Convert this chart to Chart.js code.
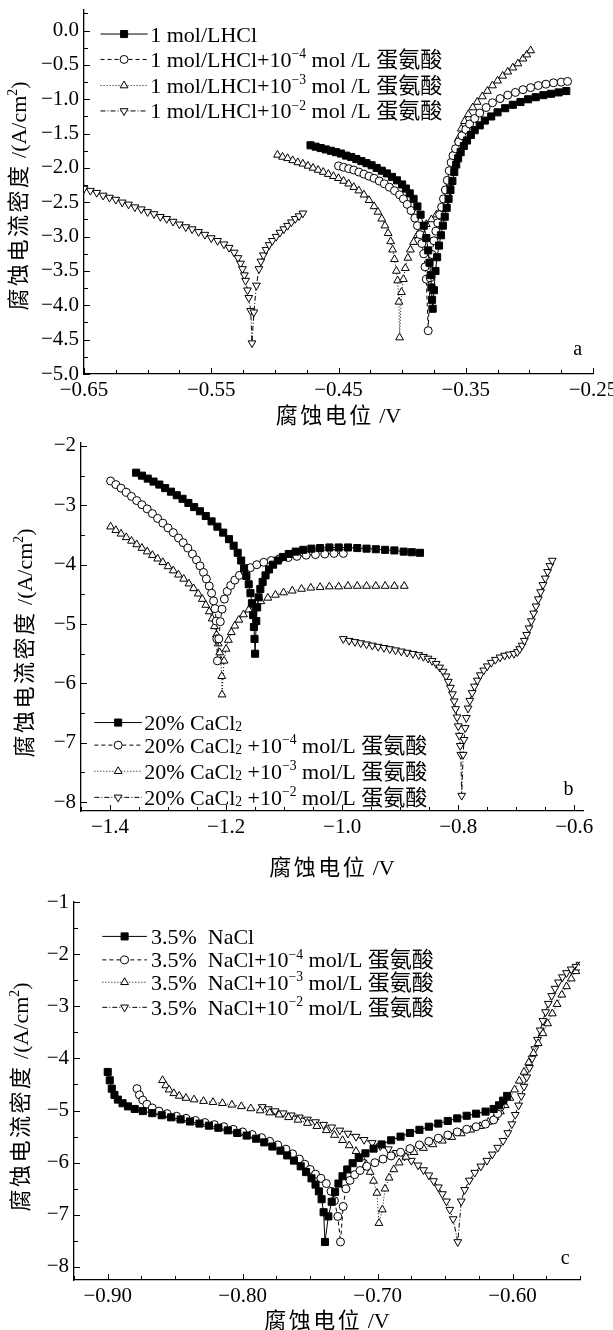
<!DOCTYPE html>
<html>
<head>
<meta charset="utf-8">
<script src="https://cdn.jsdelivr.net/npm/chart.js@4.4.1/dist/chart.umd.min.js"></script>
<style>
  html, body { margin: 0; padding: 0; background: #fff; }
  #wrap { position: relative; width: 613px; height: 1330px; overflow: hidden; }
  canvas { position: absolute; left: 0; }
</style>
</head>
<body>
<div id="wrap">
  <canvas id="pa"></canvas>
  <canvas id="pb"></canvas>
  <canvas id="pc"></canvas>
</div>
<script>
// ---- panel a: 1 mol/L HCl ----
const hclXTicks = [-0.65, -0.55, -0.45, -0.35, -0.25];
const hclYTicks = [0, -0.5, -1, -1.5, -2, -2.5, -3, -3.5, -4, -4.5, -5];
const hclLabels = ['1 mol/LHCl', '1 mol/LHCl+10⁻⁴ mol /L 蛋氨酸', '1 mol/LHCl+10⁻³ mol /L 蛋氨酸', '1 mol/LHCl+10⁻² mol /L 蛋氨酸'];

const hclBlank = [[-0.472,-1.67],[-0.468,-1.69],[-0.464,-1.71],[-0.460,-1.73],[-0.456,-1.75],[-0.452,-1.77],[-0.448,-1.79],[-0.444,-1.82],[-0.440,-1.84],[-0.436,-1.87],[-0.432,-1.90],[-0.428,-1.93],[-0.424,-1.96],[-0.420,-2.00],[-0.416,-2.04],[-0.412,-2.08],[-0.408,-2.13],[-0.404,-2.18],[-0.400,-2.24],[-0.397,-2.30],[-0.394,-2.37],[-0.391,-2.45],[-0.388,-2.56],[-0.3855,-2.68],[-0.383,-2.84],[-0.381,-3.02],[-0.3795,-3.20],[-0.3785,-3.38],[-0.3775,-3.56],[-0.377,-3.74],[-0.3765,-3.92],[-0.376,-4.05],
  [-0.375,-3.78],[-0.3738,-3.50],[-0.3725,-3.30],[-0.371,-3.13],[-0.3695,-2.98],[-0.368,-2.84],[-0.3665,-2.71],[-0.365,-2.58],[-0.3635,-2.45],[-0.362,-2.32],[-0.3605,-2.19],[-0.359,-2.06],[-0.3575,-1.95],[-0.356,-1.86],[-0.354,-1.77],[-0.3515,-1.68],[-0.349,-1.60],[-0.346,-1.52],[-0.343,-1.45],[-0.339,-1.38],[-0.335,-1.31],[-0.330,-1.25],[-0.325,-1.19],[-0.319,-1.13],[-0.313,-1.08],[-0.307,-1.04],[-0.301,-1.00],[-0.295,-0.97],[-0.289,-0.94],[-0.283,-0.92],[-0.277,-0.90],[-0.271,-0.88]];
const hcl4 = [[-0.450,-1.97],[-0.446,-1.99],[-0.442,-2.01],[-0.438,-2.03],[-0.434,-2.06],[-0.430,-2.09],[-0.426,-2.12],[-0.422,-2.15],[-0.418,-2.19],[-0.414,-2.23],[-0.410,-2.28],[-0.406,-2.33],[-0.402,-2.39],[-0.399,-2.45],[-0.396,-2.53],[-0.393,-2.62],[-0.390,-2.73],[-0.388,-2.84],[-0.386,-2.97],[-0.3845,-3.10],[-0.383,-3.25],[-0.382,-3.44],[-0.381,-3.62],[-0.3795,-4.37],
  [-0.378,-3.60],[-0.3765,-3.26],[-0.375,-3.06],[-0.3735,-2.92],[-0.372,-2.80],[-0.3705,-2.68],[-0.369,-2.57],[-0.3675,-2.45],[-0.366,-2.32],[-0.3645,-2.18],[-0.363,-2.04],[-0.3615,-1.92],[-0.360,-1.82],[-0.358,-1.72],[-0.3555,-1.62],[-0.353,-1.53],[-0.350,-1.44],[-0.347,-1.36],[-0.343,-1.28],[-0.339,-1.20],[-0.334,-1.12],[-0.329,-1.05],[-0.323,-0.99],[-0.317,-0.94],[-0.311,-0.90],[-0.305,-0.86],[-0.299,-0.83],[-0.293,-0.80],[-0.287,-0.78],[-0.281,-0.76],[-0.275,-0.75],[-0.270,-0.74]];
const hcl3 = [[-0.498,-1.81],[-0.494,-1.84],[-0.490,-1.86],[-0.486,-1.89],[-0.482,-1.92],[-0.478,-1.94],[-0.474,-1.97],[-0.470,-2.00],[-0.466,-2.03],[-0.462,-2.06],[-0.458,-2.09],[-0.454,-2.12],[-0.450,-2.15],[-0.446,-2.19],[-0.442,-2.23],[-0.438,-2.28],[-0.434,-2.33],[-0.430,-2.39],[-0.426,-2.47],[-0.422,-2.56],[-0.419,-2.64],[-0.416,-2.74],[-0.4135,-2.84],[-0.411,-2.95],[-0.409,-3.07],[-0.4075,-3.19],[-0.406,-3.33],[-0.4045,-3.50],[-0.4035,-3.64],[-0.4025,-3.95],[-0.402,-4.47],
  [-0.4005,-3.81],[-0.399,-3.62],[-0.3975,-3.46],[-0.3955,-3.31],[-0.3935,-3.19],[-0.391,-3.08],[-0.388,-2.98],[-0.385,-2.90],[-0.381,-2.82],[-0.377,-2.75],[-0.373,-2.68],[-0.369,-2.60],[-0.366,-2.51],[-0.364,-2.38],[-0.3625,-2.22],[-0.361,-2.05],[-0.3595,-1.88],[-0.358,-1.73],[-0.356,-1.58],[-0.3535,-1.43],[-0.351,-1.32],[-0.348,-1.22],[-0.3445,-1.12],[-0.341,-1.04],[-0.337,-0.96],[-0.333,-0.88],[-0.329,-0.80],[-0.325,-0.73],[-0.321,-0.66],[-0.317,-0.60],[-0.313,-0.54],[-0.309,-0.48],[-0.305,-0.41],[-0.302,-0.35],[-0.299,-0.29]];
const hcl2 = [[-0.650,-2.30],[-0.645,-2.33],[-0.640,-2.36],[-0.635,-2.40],[-0.630,-2.43],[-0.625,-2.46],[-0.620,-2.50],[-0.615,-2.53],[-0.610,-2.57],[-0.605,-2.60],[-0.600,-2.64],[-0.595,-2.67],[-0.590,-2.71],[-0.585,-2.74],[-0.580,-2.78],[-0.575,-2.82],[-0.570,-2.86],[-0.565,-2.89],[-0.560,-2.93],[-0.555,-2.97],[-0.550,-3.02],[-0.545,-3.06],[-0.540,-3.11],[-0.536,-3.16],[-0.532,-3.23],[-0.529,-3.31],[-0.527,-3.39],[-0.5255,-3.47],[-0.524,-3.56],[-0.523,-3.64],[-0.5215,-3.78],[-0.5205,-3.89],[-0.519,-4.08],[-0.518,-4.55],
  [-0.5165,-4.10],[-0.5145,-3.71],[-0.5125,-3.47],[-0.511,-3.36],[-0.509,-3.27],[-0.507,-3.19],[-0.5045,-3.12],[-0.502,-3.06],[-0.499,-3.00],[-0.496,-2.94],[-0.493,-2.89],[-0.490,-2.84],[-0.487,-2.79],[-0.484,-2.74],[-0.481,-2.70],[-0.478,-2.66]];

// ---- panel b: 20% CaCl2 ----
const cacXTicks = [-1.4, -1.2, -1.0, -0.8, -0.6];
const cacYTicks = [-2, -3, -4, -5, -6, -7, -8];
const cacLabels = ['20% CaCl₂', '20% CaCl₂ +10⁻⁴ mol/L 蛋氨酸', '20% CaCl₂ +10⁻³ mol/L 蛋氨酸', '20% CaCl₂ +10⁻² mol/L 蛋氨酸'];

const cacBlank = [[-1.355,-2.45],[-1.345,-2.50],[-1.335,-2.55],[-1.325,-2.60],[-1.315,-2.65],[-1.305,-2.71],[-1.295,-2.77],[-1.285,-2.83],[-1.275,-2.89],[-1.265,-2.96],[-1.255,-3.03],[-1.245,-3.10],[-1.235,-3.18],[-1.225,-3.27],[-1.215,-3.36],[-1.205,-3.46],[-1.195,-3.57],[-1.187,-3.68],[-1.180,-3.80],[-1.174,-3.93],[-1.169,-4.06],[-1.165,-4.19],[-1.161,-4.33],[-1.158,-4.48],[-1.1555,-4.65],[-1.1535,-4.85],[-1.152,-5.05],[-1.151,-5.25],[-1.150,-5.50],
  [-1.148,-4.95],[-1.1465,-4.72],[-1.144,-4.55],[-1.141,-4.41],[-1.137,-4.29],[-1.132,-4.18],[-1.126,-4.08],[-1.119,-4.00],[-1.111,-3.93],[-1.102,-3.87],[-1.092,-3.82],[-1.080,-3.78],[-1.067,-3.75],[-1.053,-3.73],[-1.038,-3.72],[-1.022,-3.71],[-1.006,-3.71],[-0.990,-3.71],[-0.974,-3.72],[-0.958,-3.73],[-0.942,-3.74],[-0.926,-3.75],[-0.910,-3.76],[-0.894,-3.78],[-0.880,-3.79],[-0.866,-3.80]];
const cac4 = [[-1.399,-2.59],[-1.390,-2.65],[-1.381,-2.71],[-1.372,-2.78],[-1.363,-2.85],[-1.354,-2.92],[-1.345,-2.99],[-1.336,-3.06],[-1.327,-3.14],[-1.318,-3.22],[-1.309,-3.30],[-1.300,-3.38],[-1.291,-3.46],[-1.282,-3.55],[-1.274,-3.63],[-1.266,-3.72],[-1.258,-3.82],[-1.251,-3.92],[-1.245,-4.02],[-1.239,-4.13],[-1.234,-4.24],[-1.229,-4.36],[-1.225,-4.48],[-1.2215,-4.61],[-1.219,-4.74],[-1.217,-4.95],[-1.216,-5.25],[-1.215,-5.62],
  [-1.2125,-5.25],[-1.210,-4.96],[-1.207,-4.75],[-1.203,-4.58],[-1.198,-4.45],[-1.192,-4.35],[-1.185,-4.26],[-1.177,-4.18],[-1.168,-4.11],[-1.158,-4.05],[-1.147,-4.00],[-1.135,-3.96],[-1.122,-3.93],[-1.108,-3.90],[-1.093,-3.88],[-1.078,-3.86],[-1.062,-3.84],[-1.046,-3.83],[-1.030,-3.82],[-1.014,-3.81],[-0.998,-3.81]];
const cac3 = [[-1.399,-3.36],[-1.390,-3.42],[-1.381,-3.48],[-1.372,-3.54],[-1.363,-3.60],[-1.354,-3.66],[-1.345,-3.72],[-1.336,-3.78],[-1.327,-3.84],[-1.318,-3.90],[-1.309,-3.96],[-1.300,-4.03],[-1.291,-4.10],[-1.282,-4.17],[-1.273,-4.24],[-1.264,-4.32],[-1.256,-4.40],[-1.248,-4.49],[-1.241,-4.58],[-1.235,-4.68],[-1.229,-4.79],[-1.224,-4.91],[-1.220,-5.04],[-1.2165,-5.18],[-1.2135,-5.33],[-1.211,-5.48],[-1.209,-5.62],[-1.2075,-5.88],[-1.207,-6.19],
  [-1.2035,-5.62],[-1.200,-5.42],[-1.196,-5.27],[-1.191,-5.14],[-1.185,-5.03],[-1.178,-4.93],[-1.170,-4.84],[-1.161,-4.76],[-1.151,-4.69],[-1.140,-4.62],[-1.128,-4.56],[-1.115,-4.51],[-1.101,-4.47],[-1.086,-4.44],[-1.070,-4.41],[-1.054,-4.39],[-1.038,-4.38],[-1.022,-4.37],[-1.006,-4.37],[-0.990,-4.36],[-0.974,-4.36],[-0.958,-4.36],[-0.942,-4.36],[-0.926,-4.36],[-0.910,-4.36],[-0.893,-4.36]];
const cac2 = [[-0.998,-5.25],[-0.988,-5.28],[-0.978,-5.30],[-0.968,-5.32],[-0.958,-5.34],[-0.948,-5.36],[-0.938,-5.38],[-0.928,-5.40],[-0.918,-5.42],[-0.908,-5.44],[-0.898,-5.46],[-0.888,-5.48],[-0.878,-5.50],[-0.868,-5.52],[-0.860,-5.55],[-0.852,-5.58],[-0.845,-5.62],[-0.838,-5.67],[-0.832,-5.73],[-0.826,-5.80],[-0.821,-5.88],[-0.817,-5.97],[-0.8135,-6.07],[-0.810,-6.18],[-0.807,-6.30],[-0.8045,-6.43],[-0.802,-6.57],[-0.800,-6.72],[-0.798,-6.88],[-0.7965,-7.05],[-0.7955,-7.20],[-0.794,-7.89],
  [-0.7915,-7.20],[-0.790,-6.95],[-0.788,-6.75],[-0.786,-6.58],[-0.783,-6.42],[-0.780,-6.29],[-0.776,-6.16],[-0.772,-6.05],[-0.767,-5.95],[-0.762,-5.86],[-0.756,-5.78],[-0.750,-5.71],[-0.743,-5.65],[-0.736,-5.60],[-0.728,-5.56],[-0.720,-5.53],[-0.712,-5.51],[-0.704,-5.50],[-0.698,-5.47],[-0.694,-5.42],[-0.690,-5.36],[-0.686,-5.28],[-0.682,-5.18],[-0.678,-5.07],[-0.674,-4.95],[-0.670,-4.82],[-0.666,-4.70],[-0.662,-4.58],[-0.658,-4.46],[-0.654,-4.34],[-0.650,-4.23],[-0.646,-4.12],[-0.642,-4.02],[-0.638,-3.93]];

// ---- panel c: 3.5% NaCl ----
const nacXTicks = [-0.9, -0.8, -0.7, -0.6];
const nacYTicks = [-1, -2, -3, -4, -5, -6, -7, -8];
const nacLabels = ['3.5%  NaCl', '3.5%  NaCl+10⁻⁴ mol/L 蛋氨酸', '3.5%  NaCl+10⁻³ mol/L 蛋氨酸', '3.5%  NaCl+10⁻² mol/L 蛋氨酸'];

const nacBlank = [[-0.900,-4.26],[-0.8985,-4.42],[-0.897,-4.58],[-0.895,-4.70],[-0.8925,-4.79],[-0.889,-4.86],[-0.885,-4.92],[-0.880,-4.97],[-0.874,-5.01],[-0.867,-5.05],[-0.860,-5.09],[-0.853,-5.13],[-0.846,-5.17],[-0.839,-5.21],[-0.832,-5.25],[-0.825,-5.29],[-0.818,-5.33],[-0.811,-5.38],[-0.804,-5.43],[-0.797,-5.48],[-0.790,-5.54],[-0.784,-5.61],[-0.778,-5.69],[-0.772,-5.77],[-0.767,-5.86],[-0.762,-5.96],[-0.757,-6.07],[-0.753,-6.18],[-0.749,-6.30],[-0.746,-6.42],[-0.7435,-6.55],[-0.7415,-6.70],[-0.740,-6.95],[-0.739,-7.52],
  [-0.7365,-7.03],[-0.734,-6.75],[-0.7315,-6.56],[-0.729,-6.40],[-0.726,-6.26],[-0.7225,-6.13],[-0.7185,-6.01],[-0.714,-5.91],[-0.709,-5.82],[-0.703,-5.73],[-0.697,-5.65],[-0.690,-5.57],[-0.683,-5.50],[-0.676,-5.43],[-0.669,-5.37],[-0.662,-5.31],[-0.655,-5.25],[-0.648,-5.20],[-0.641,-5.15],[-0.634,-5.10],[-0.627,-5.06],[-0.620,-5.02],[-0.614,-4.97],[-0.610,-4.90],[-0.607,-4.81],[-0.604,-4.72]];
const nac4 = [[-0.8783,-4.58],[-0.8765,-4.70],[-0.874,-4.80],[-0.871,-4.88],[-0.867,-4.95],[-0.862,-5.01],[-0.856,-5.06],[-0.849,-5.11],[-0.842,-5.15],[-0.835,-5.19],[-0.828,-5.23],[-0.821,-5.27],[-0.814,-5.31],[-0.807,-5.36],[-0.800,-5.41],[-0.793,-5.46],[-0.786,-5.52],[-0.780,-5.59],[-0.774,-5.66],[-0.768,-5.74],[-0.763,-5.83],[-0.758,-5.93],[-0.754,-6.03],[-0.750,-6.13],[-0.746,-6.22],[-0.742,-6.30],[-0.738,-6.40],[-0.7345,-6.55],[-0.732,-6.73],[-0.7295,-7.03],[-0.7275,-7.52],
  [-0.7255,-6.84],[-0.7235,-6.50],[-0.7205,-6.34],[-0.717,-6.23],[-0.713,-6.15],[-0.708,-6.07],[-0.702,-6.00],[-0.696,-5.93],[-0.690,-5.87],[-0.683,-5.80],[-0.676,-5.73],[-0.669,-5.66],[-0.662,-5.59],[-0.655,-5.53],[-0.648,-5.47],[-0.641,-5.41],[-0.634,-5.36],[-0.627,-5.31],[-0.620,-5.26],[-0.614,-5.18],[-0.611,-5.06],[-0.609,-4.93]];
const nac3 = [[-0.8594,-4.42],[-0.857,-4.52],[-0.8545,-4.60],[-0.851,-4.67],[-0.847,-4.72],[-0.842,-4.76],[-0.836,-4.79],[-0.829,-4.82],[-0.822,-4.84],[-0.815,-4.86],[-0.808,-4.89],[-0.801,-4.92],[-0.794,-4.96],[-0.787,-5.00],[-0.780,-5.04],[-0.773,-5.08],[-0.766,-5.13],[-0.759,-5.18],[-0.752,-5.24],[-0.745,-5.30],[-0.738,-5.38],[-0.732,-5.47],[-0.726,-5.57],[-0.721,-5.67],[-0.716,-5.78],[-0.712,-5.90],[-0.7085,-6.03],[-0.7055,-6.18],[-0.703,-6.35],[-0.7005,-6.58],[-0.699,-7.16],
  [-0.6965,-6.90],[-0.6945,-6.50],[-0.6915,-6.29],[-0.688,-6.13],[-0.684,-6.00],[-0.679,-5.89],[-0.673,-5.80],[-0.666,-5.72],[-0.659,-5.65],[-0.652,-5.58],[-0.645,-5.51],[-0.638,-5.44],[-0.631,-5.37],[-0.624,-5.30],[-0.618,-5.22],[-0.613,-5.13],[-0.609,-5.02],[-0.6055,-4.90],[-0.602,-4.76],[-0.5985,-4.60],[-0.595,-4.43],[-0.5915,-4.26],[-0.588,-4.08],[-0.5845,-3.90],[-0.581,-3.71],[-0.5775,-3.52],[-0.574,-3.33],[-0.5705,-3.14],[-0.567,-2.96],[-0.5635,-2.78],[-0.560,-2.62],[-0.5565,-2.47],[-0.553,-2.33],[-0.551,-2.26]];
const nac2 = [[-0.7855,-4.93],[-0.781,-4.97],[-0.776,-5.01],[-0.770,-5.05],[-0.764,-5.09],[-0.758,-5.13],[-0.752,-5.17],[-0.746,-5.22],[-0.740,-5.27],[-0.734,-5.32],[-0.728,-5.38],[-0.722,-5.44],[-0.716,-5.50],[-0.710,-5.56],[-0.704,-5.62],[-0.698,-5.68],[-0.692,-5.74],[-0.686,-5.81],[-0.680,-5.88],[-0.675,-5.96],[-0.670,-6.05],[-0.666,-6.14],[-0.662,-6.24],[-0.6585,-6.35],[-0.655,-6.47],[-0.652,-6.60],[-0.649,-6.74],[-0.6465,-6.90],[-0.644,-7.08],[-0.6406,-7.52],
  [-0.638,-6.74],[-0.6355,-6.52],[-0.632,-6.34],[-0.628,-6.19],[-0.6235,-6.07],[-0.619,-5.96],[-0.615,-5.84],[-0.611,-5.71],[-0.607,-5.58],[-0.6035,-5.43],[-0.6005,-5.26],[-0.598,-5.08],[-0.5955,-4.90],[-0.5935,-4.72],[-0.5915,-4.54],[-0.5895,-4.36],[-0.5875,-4.18],[-0.5855,-4.00],[-0.5835,-3.82],[-0.5815,-3.64],[-0.5795,-3.46],[-0.5775,-3.28],[-0.5755,-3.11],[-0.5735,-2.95],[-0.571,-2.80],[-0.5685,-2.66],[-0.566,-2.54],[-0.563,-2.44],[-0.560,-2.36],[-0.5565,-2.29],[-0.553,-2.24],[-0.550,-2.20]];

// ---- styling / layout ----
const SERIF = "'Liberation Serif', 'Noto Sans CJK SC', serif";
const markers = [
  { pointStyle: 'rect',     radius: 5,   fill: '#000', dash: [],           rotation: 0 },
  { pointStyle: 'circle',   radius: 4,   fill: '#fff', dash: [4, 3],       rotation: 0 },
  { pointStyle: 'triangle', radius: 4.5, fill: '#fff', dash: [1, 2],       rotation: 0 },
  { pointStyle: 'triangle', radius: 4.5, fill: '#fff', dash: [5, 2, 1, 2], rotation: 180 }
];

const panels = [
  { id: 'pa', top: 0, height: 430, area: { l: 84, r: 593, t: 10, b: 374 },
    xRange: [-0.65, -0.25], yRange: [-5, 0.3], xMinor: 0.025, yMinor: 0.25, xDec: 2, yDec: 1,
    xTicks: hclXTicks, yTicks: hclYTicks, labels: hclLabels, series: [hclBlank, hcl4, hcl3, hcl2],
    legend: { x0: -0.637, x1: -0.600, xt: -0.598, rows: [-0.05, -0.42, -0.80, -1.17] },
    letter: { t: 'a', x: -0.262, y: -4.64 }, xTitleY: 415, yTitle: { x: 18, y: 196 } },
  { id: 'pb', top: 430, height: 450, area: { l: 81, r: 583, t: 13, b: 381 },
    xRange: [-1.45, -0.585], yRange: [-8.15, -1.95], xMinor: 0.05, yMinor: 0.5, xDec: 1, yDec: 0,
    xTicks: cacXTicks, yTicks: cacYTicks, labels: cacLabels, series: [cacBlank, cac4, cac3, cac2],
    legend: { x0: -1.427, x1: -1.345, xt: -1.341, rows: [-6.66, -7.04, -7.48, -7.92] },
    letter: { t: 'b', x: -0.61, y: -7.8 }, xTitleY: 437, yTitle: { x: 24, y: 213 } },
  { id: 'pc', top: 880, height: 450, area: { l: 74, r: 580, t: 22, b: 400 },
    xRange: [-0.925, -0.55], yRange: [-8.25, -1], xMinor: 0.025, yMinor: 0.5, xDec: 2, yDec: 0,
    xTicks: nacXTicks, yTicks: nacYTicks, labels: nacLabels, series: [nacBlank, nac4, nac3, nac2],
    legend: { x0: -0.904, x1: -0.871, xt: -0.868, rows: [-1.66, -2.11, -2.54, -3.02] },
    letter: { t: 'c', x: -0.561, y: -7.84 }, xTitleY: 440, yTitle: { x: 20, y: 217 } }
];

const fmt = (v, d) => {
  const s = v.toFixed(d);
  return Math.abs(v) < 1e-9 ? s : s.replace('-', '\u2212');
};

// text with super/subscript glyphs drawn small and shifted; CJK chars get extra gap
const SUP = { '⁻': '\u2212', '⁰': '0', '¹': '1', '²': '2', '³': '3', '⁴': '4' };
const SUB = { '₂': '2' };
const isCJK = ch => /[\u4e00-\u9fff]/.test(ch);
function runs(ctx, str, size, gap) {
  const out = [];
  for (const ch of str) {
    let s = size, dy = 0, c = ch;
    if (SUP[ch]) { c = SUP[ch]; s = size * 0.62; dy = -size * 0.4; }
    else if (SUB[ch]) { c = SUB[ch]; s = size * 0.62; dy = size * 0.05; }
    ctx.font = s + 'px ' + SERIF;
    out.push({ c, s, dy, w: ctx.measureText(c).width + (isCJK(ch) ? gap : 0) });
  }
  return out;
}
function drawRich(ctx, str, x, y, size, gap = 0, center = false) {
  const rs = runs(ctx, str, size, gap);
  let cx = center ? x - rs.reduce((a, r) => a + r.w, 0) / 2 : x;
  ctx.textAlign = 'left';
  ctx.textBaseline = 'alphabetic';
  rs.forEach(r => {
    ctx.font = r.s + 'px ' + SERIF;
    ctx.fillText(r.c, cx, y + r.dy);
    cx += r.w;
  });
}

function tickValues(labels, step, min, max) {
  const out = [];
  const n0 = Math.ceil((min - labels[0]) / step - 1e-6);
  const n1 = Math.floor((max - labels[0]) / step + 1e-6);
  for (let k = n0; k <= n1; k++) out.push(labels[0] + k * step);
  return out;
}

const decor = {
  id: 'decor',
  afterDraw(chart, args, o) {
    const { ctx, chartArea: ca } = chart;
    const xs = chart.scales.x, ys = chart.scales.y;
    ctx.save();
    ctx.strokeStyle = '#000';
    ctx.fillStyle = '#000';
    ctx.lineWidth = 1;

    // inward ticks
    const isMajor = (v, arr) => arr.some(a => Math.abs(a - v) < 1e-6);
    ctx.beginPath();
    tickValues(o.xTicks, o.xMinor, xs.min, xs.max).forEach(v => {
      const px = Math.round(xs.getPixelForValue(v)) + 0.5;
      const len = isMajor(v, o.xTicks) ? 6 : 4;
      ctx.moveTo(px, ca.bottom); ctx.lineTo(px, ca.bottom - len);
    });
    tickValues(o.yTicks, o.yMinor, ys.min, ys.max).forEach(v => {
      const py = Math.round(ys.getPixelForValue(v)) + 0.5;
      const len = isMajor(v, o.yTicks) ? 6 : 4;
      ctx.moveTo(ca.left, py); ctx.lineTo(ca.left + len, py);
    });
    ctx.stroke();

    // legend
    const lg = o.legend;
    chart.data.datasets.forEach((ds, i) => {
      const m = markers[i];
      const y = ys.getPixelForValue(lg.rows[i]);
      const xa = xs.getPixelForValue(lg.x0), xb = xs.getPixelForValue(lg.x1);
      ctx.setLineDash(m.dash);
      ctx.beginPath(); ctx.moveTo(xa, y); ctx.lineTo(xb, y); ctx.stroke();
      ctx.setLineDash([]);
      ctx.fillStyle = m.fill;
      Chart.helpers.drawPoint(ctx, { pointStyle: m.pointStyle, rotation: m.rotation, radius: m.radius, borderWidth: 1 }, (xa + xb) / 2, y);
      ctx.fillStyle = '#000';
      drawRich(ctx, ds.label, xs.getPixelForValue(lg.xt), y + 7.5, 22);
    });

    // panel letter
    ctx.font = '20px ' + SERIF;
    ctx.textAlign = 'center';
    ctx.textBaseline = 'middle';
    ctx.fillText(o.letter.t, xs.getPixelForValue(o.letter.x), ys.getPixelForValue(o.letter.y));

    // axis titles
    drawRich(ctx, '腐蚀电位 /V', (ca.left + ca.right) / 2, o.xTitleY + 8, 22, 2.5, true);
    ctx.translate(o.yTitle.x, o.yTitle.y);
    ctx.rotate(-Math.PI / 2);
    drawRich(ctx, '腐蚀电流密度 /(A/cm²)', 0, 8, 22, 2.5, true);
    ctx.restore();
  }
};

panels.forEach(p => {
  const cv = document.getElementById(p.id);
  cv.width = 613; cv.height = p.height;
  cv.style.top = p.top + 'px';
  cv.style.width = '613px'; cv.style.height = p.height + 'px';

  const datasets = p.series.map((d, i) => ({
    label: p.labels[i],
    data: d,
    showLine: true,
    borderColor: '#000',
    borderWidth: 1,
    borderDash: markers[i].dash,
    pointStyle: markers[i].pointStyle,
    pointRotation: markers[i].rotation,
    pointRadius: markers[i].radius,
    pointBackgroundColor: markers[i].fill,
    pointBorderColor: '#000',
    pointBorderWidth: 1
  }));

  const axisCommon = {
    type: 'linear',
    grid: { display: true, drawOnChartArea: false, drawTicks: false },
    border: { display: true, color: '#000', width: 1.3 },
    ticks: { color: '#000', font: { family: SERIF, size: 21 } }
  };

  new Chart(cv, {
    type: 'scatter',
    data: { datasets },
    plugins: [decor],
    options: {
      responsive: false,
      animation: false,
      events: [],
      layout: { autoPadding: false, padding: { top: p.area.t, right: 613 - p.area.r, left: 0, bottom: 0 } },
      plugins: {
        legend: { display: false },
        tooltip: { enabled: false },
        decor: { xTicks: p.xTicks, yTicks: p.yTicks, xMinor: p.xMinor, yMinor: p.yMinor,
                 legend: p.legend, letter: p.letter, xTitleY: p.xTitleY, yTitle: p.yTitle }
      },
      scales: {
        x: { ...axisCommon, min: p.xRange[0], max: p.xRange[1],
             ticks: { ...axisCommon.ticks, padding: 4, maxRotation: 0, autoSkip: false, callback: v => fmt(v, p.xDec) },
             afterBuildTicks: s => { s.ticks = p.xTicks.map(v => ({ value: v })); },
             afterFit: s => { s.height = p.height - p.area.b; s.paddingLeft = 0; s.paddingRight = 0; } },
        y: { ...axisCommon, min: p.yRange[0], max: p.yRange[1],
             ticks: { ...axisCommon.ticks, padding: 5, autoSkip: false, callback: v => fmt(v, p.yDec) },
             afterBuildTicks: s => { s.ticks = p.yTicks.map(v => ({ value: v })); },
             afterFit: s => { s.width = p.area.l; s.paddingTop = 0; s.paddingBottom = 0; } }
      }
    }
  });
});
</script>
</body>
</html>
